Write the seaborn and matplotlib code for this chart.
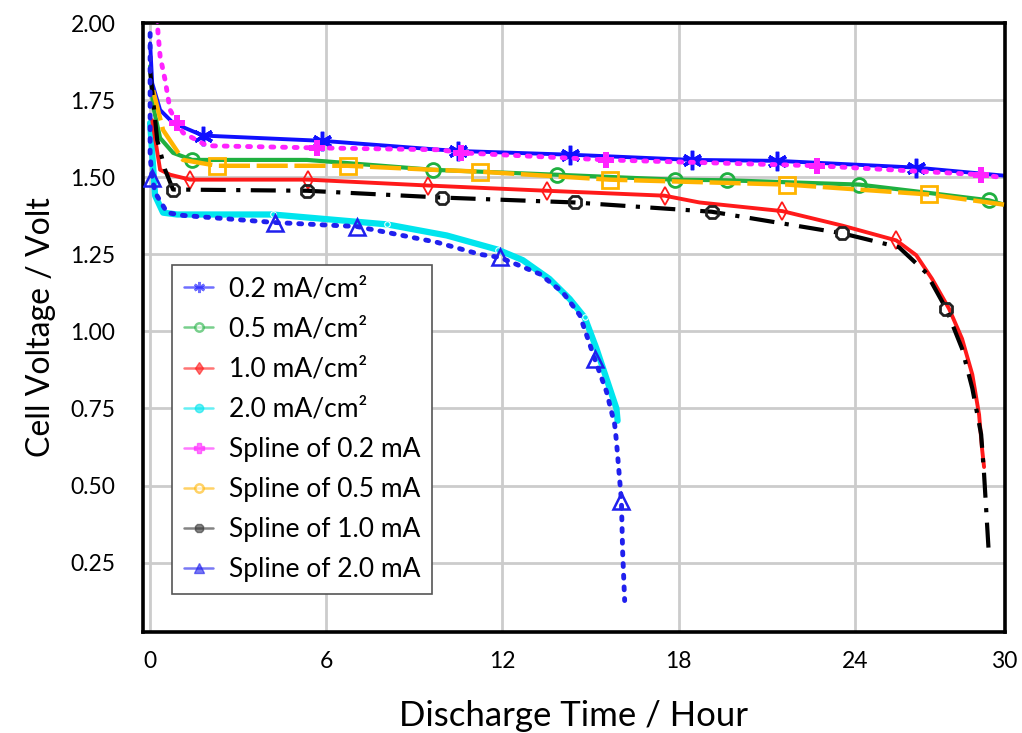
import numpy as np
import matplotlib
matplotlib.use("Agg")
import matplotlib.pyplot as plt
import seaborn as sns
from matplotlib.lines import Line2D

# 数据
t_02 = [0.0, 0.07, 0.34, 0.78, 1.8, 5.85, 9.86, 10.5, 14.29, 18.47, 21.36, 26.09, 29.08]
v_02 = [1.934, 1.805, 1.718, 1.676, 1.635, 1.618, 1.589, 1.585, 1.573, 1.556, 1.553, 1.531, 1.505]
m_02 = [4, 5, 7, 8, 9, 10, 11]

t_05 = [0.0, 0.1, 0.34, 0.78, 1.43, 5.34, 9.63, 13.84, 17.86, 19.63, 24.15, 26.43, 28.57, 29.08]
v_05 = [1.86, 1.731, 1.627, 1.579, 1.556, 1.556, 1.524, 1.508, 1.492, 1.49, 1.476, 1.45, 1.425, 1.411]
m_05 = [4, 6, 7, 8, 9, 10, 12]

t_10 = [0.07, 0.34, 0.68, 1.36, 5.37, 9.46, 13.5, 17.52, 18.71, 21.53, 23.57, 25.41, 26.09,
        26.63, 27.21, 27.65, 28.0, 28.23, 28.33, 28.4]
v_10 = [1.685, 1.524, 1.508, 1.492, 1.492, 1.473, 1.456, 1.44, 1.418, 1.39, 1.343, 1.295, 1.247,
        1.17, 1.073, 0.976, 0.86, 0.73, 0.62, 0.56]
m_10 = [3, 4, 5, 6, 7, 9, 11]

t_20 = [0.0, 0.17, 0.44, 0.92, 4.18, 8.06, 10.1, 11.84, 12.69, 13.6, 14.29, 14.8, 15.2, 15.54, 15.88, 15.92]
v_20 = [1.676, 1.44, 1.385, 1.379, 1.379, 1.347, 1.311, 1.265, 1.231, 1.17, 1.105, 1.045, 0.944, 0.847, 0.75, 0.71]
m_20 = [4, 5, 7, 11]

ts_02 = [0.24, 0.27, 0.34, 0.51, 0.68, 0.92, 1.12, 1.94, 5.68, 9.86, 10.6, 15.54, 22.72, 28.3, 29.08]
vs_02 = [2.015, 1.966, 1.892, 1.815, 1.718, 1.676, 1.644, 1.602, 1.595, 1.589, 1.579, 1.556, 1.537, 1.508, 1.498]
ms_02 = [5, 8, 10, 11, 12, 13]

ts_05 = [0.1, 0.44, 1.12, 2.28, 6.73, 9.63, 11.22, 15.65, 21.7, 26.53, 29.08]
vs_05 = [1.782, 1.653, 1.556, 1.537, 1.537, 1.524, 1.518, 1.492, 1.476, 1.444, 1.411]
ms_05 = [3, 4, 6, 7, 8, 9]

ts_10 = [0.0, 0.24, 0.51, 0.78, 5.34, 9.93, 14.46, 19.12, 23.57, 25.5, 26.43, 27.11, 27.65,
         28.0, 28.3, 28.4, 28.57]
vs_10 = [1.847, 1.621, 1.524, 1.46, 1.456, 1.434, 1.418, 1.388, 1.318, 1.273, 1.19, 1.073, 0.944,
         0.815, 0.666, 0.537, 0.266]
ms_10 = [3, 4, 5, 6, 7, 8, 11]

ts_20 = [0.0, 0.0, 0.0, 0.07, 0.17, 0.58, 1.12, 4.25, 7.04, 8.06, 9.76, 11.22, 11.9, 13.27, 14.05,
         14.63, 15.14, 15.54, 15.82, 15.88, 16.05, 16.09, 16.16]
vs_20 = [1.966, 1.74, 1.569, 1.498, 1.45, 1.385, 1.376, 1.353, 1.34, 1.321, 1.289, 1.25, 1.24, 1.186, 1.127,
         1.053, 0.911, 0.805, 0.698, 0.644, 0.45, 0.289, 0.127]
ms_20 = [3, 7, 8, 12, 16, 20]

labels = ["0.2 mA/cm²", "0.5 mA/cm²", "1.0 mA/cm²", "2.0 mA/cm²",
          "Spline of 0.2 mA", "Spline of 0.5 mA", "Spline of 1.0 mA", "Spline of 2.0 mA"]

sns.set_theme(style="whitegrid")
plt.rcParams['font.family'] = ['Lato', 'DejaVu Sans']
plt.rcParams['text.color'] = 'black'
plt.rcParams['axes.labelcolor'] = 'black'

fig = plt.figure(figsize=(10.22, 7.33), dpi=100)
ax = fig.add_axes([0.140, 0.1378, 0.843, 0.8308])

# 实测曲线
sns.lineplot(x=t_20, y=v_20, ax=ax, sort=False, estimator=None, color='#00e5ee', lw=4.5,
             marker='o', markersize=4, markevery=m_20, zorder=2)
sns.lineplot(x=t_10, y=v_10, ax=ax, sort=False, estimator=None, color='#ff1a1a', lw=2.8,
             marker='d', markersize=9, markerfacecolor='none', markeredgecolor='#ff1a1a',
             markeredgewidth=1.3, markevery=m_10, zorder=2)
sns.lineplot(x=t_05, y=v_05, ax=ax, sort=False, estimator=None, color='#1fb040', lw=3,
             marker='o', markersize=10, markerfacecolor='none', markeredgecolor='#1fb040',
             markeredgewidth=2, markevery=m_05, zorder=2)
sns.lineplot(x=t_02, y=v_02, ax=ax, sort=False, estimator=None, color='#1010ff', lw=2.8,
             marker=(6, 2, 0), markersize=14, markeredgecolor='#1010ff',
             markeredgewidth=2.5, markevery=m_02, zorder=2)

# 拟合曲线
sns.lineplot(x=ts_05, y=vs_05, ax=ax, sort=False, estimator=None, color='#ffb400', lw=3.2,
             linestyle=(0, (7, 1.5)), marker='s', markersize=12, markerfacecolor='none',
             markeredgecolor='#ffb400', markeredgewidth=2, markevery=ms_05, zorder=3)
sns.lineplot(x=ts_10, y=vs_10, ax=ax, sort=False, estimator=None, color='black', lw=3,
             linestyle=(0, (6, 2.5, 1, 2.5)), marker='8', markersize=10, markerfacecolor='none',
             markeredgecolor='#222222', markeredgewidth=2, markevery=ms_10, zorder=3)
sns.lineplot(x=ts_02, y=vs_02, ax=ax, sort=False, estimator=None, color='#ff22ff', lw=3.5,
             linestyle=(0, (0.6, 1.8)), dash_capstyle='round', marker='P', markersize=11,
             markeredgewidth=0, markevery=ms_02, zorder=3)
sns.lineplot(x=ts_20, y=vs_20, ax=ax, sort=False, estimator=None, color='#2020ee', lw=3.5,
             linestyle=(0, (0.6, 1.8)), dash_capstyle='round', marker='^', markersize=12,
             markerfacecolor='none', markeredgecolor='#2020ee', markeredgewidth=1.8,
             markevery=ms_20, zorder=3)

ax.set_xlim(-0.24, 29.1)
ax.set_ylim(0.025, 1.99)
ax.set_xticks([0, 6, 12, 18, 24, 29.1])
ax.set_xticklabels(["0", "6", "12", "18", "24", "30"])
ax.set_yticks([0.25, 0.5, 0.75, 1.0, 1.25, 1.5, 1.75, 2.0])
ax.set_yticklabels(["0.25", "0.50", "0.75", "1.00", "1.25", "1.50", "1.75", "2.00"])
ax.tick_params(axis='both', length=0, labelsize=16.5, colors='black')
ax.tick_params(axis='x', pad=14)
ax.tick_params(axis='y', pad=20)
ax.grid(True, color='#cccccc', lw=2)
ax.set_facecolor('white')
for s in ax.spines.values():
    s.set_color('black')
    s.set_linewidth(2.6)

ax.set_xlabel("Discharge Time / Hour", fontsize=25, labelpad=20)
ax.set_ylabel("Cell Voltage / Volt", fontsize=23, labelpad=10)

# 图例
leg_style = [
    dict(color='#1010ff', marker=(6, 2, 0), markersize=8, markeredgewidth=1.8),
    dict(color='#1fb040', marker='o', markersize=6, markerfacecolor='white', markeredgewidth=1.8),
    dict(color='#ff1a1a', marker='d', markersize=6),
    dict(color='#00e5ee', marker='o', markersize=6),
    dict(color='#ff22ff', marker='P', markersize=7),
    dict(color='#ffb400', marker='o', markersize=6, markerfacecolor='white', markeredgewidth=1.8),
    dict(color='#333333', marker='8', markersize=7),
    dict(color='#2020ee', marker='^', markersize=7),
]
handles = [Line2D([0], [0], lw=1.8, alpha=0.6, **st) for st in leg_style]
leg = ax.legend(handles, labels, loc='upper left', bbox_to_anchor=(0.034, 0.603),
                fontsize=19, frameon=True, fancybox=False, edgecolor='#555555',
                framealpha=1, labelspacing=0.57, handlelength=1.1, handletextpad=0.6,
                borderpad=0.45, borderaxespad=0)
leg.get_frame().set_linewidth(1.2)

fig.savefig("out.png", dpi=100)
